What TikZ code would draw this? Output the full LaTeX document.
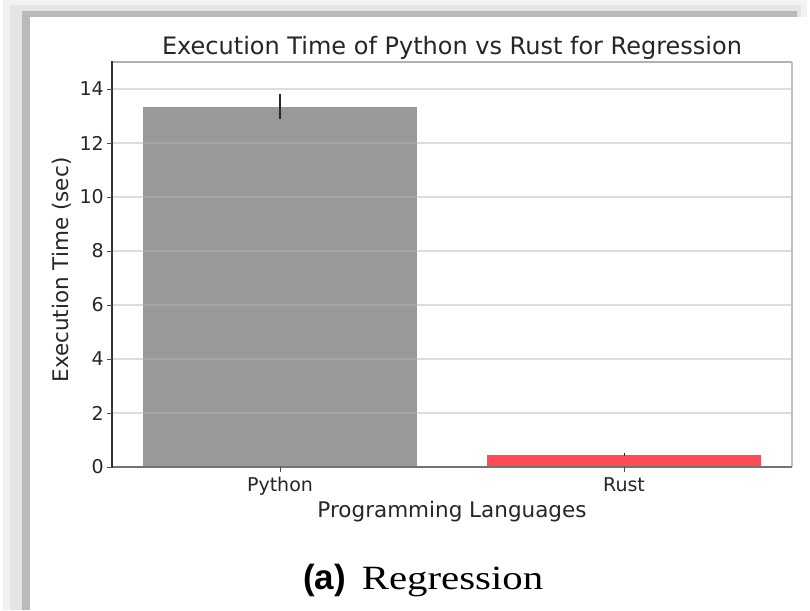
\documentclass[tikz,border=0pt]{standalone}
\usepackage{fontspec}
\newfontfamily\plotfont{DejaVu Sans}
\newfontfamily\capsans{Liberation Sans}
\newfontfamily\capserif{Liberation Serif}
\definecolor{pybar}{HTML}{999999}
\definecolor{rustbar}{HTML}{FF4B57}
\definecolor{gridgray}{HTML}{B4B4B4}
\begin{document}
\begin{tikzpicture}[x=1pt,y=-1pt,
  ticklabel/.style={font=\plotfont\fontsize{19}{22}\selectfont, text=black!85, inner sep=0pt},
  axlabel/.style={font=\plotfont\fontsize{21.5}{25}\selectfont, text=black!85, inner sep=0pt},
  titletext/.style={font=\plotfont\fontsize{24}{28}\selectfont, text=black!85, inner sep=0pt},
  gridline/.style={draw=gridgray, opacity=.45, line width=1.2pt},
  tickmark/.style={draw=black!70, line width=1pt},
  errbar/.style={draw=black!85, line width=1.7pt},
]
\useasboundingbox (0,0) rectangle (810,610);

% soft frame shadow along the top and left edges
\fill[black!5]  (3,0)   rectangle (807,610);
\fill[black!10] (10,5)  rectangle (801,610);
\fill[black!27] (22,11) rectangle (797,610);
\fill[white]    (30,17) rectangle (810,610);

% bars (y = 467 - 27 * value)
\fill[pybar]   (143,107.4) rectangle (417,467);
\fill[rustbar] (487,454.6) rectangle (761,467);

% horizontal grid, drawn over the bars
\foreach \yy in {89,143,197,251,305,359,413}
  \draw[gridline] (112,\yy) -- (792,\yy);

% error bars
\draw[errbar] (280,94.4) -- (280,119.1);
\draw[errbar, line width=1pt] (624,452.6) -- (624,456);

% axes frame
\draw[black!30, line width=1.4pt] (112,62) -- (792,62);
\draw[black!25, line width=1.4pt] (792,62) -- (792,467);
\draw[black!55, line width=1.4pt] (112,467) -- (792,467);
\draw[black!80, line width=1.4pt] (112,61.3) -- (112,467.7);

% y ticks and labels
\foreach \val/\yy in {0/467,2/413,4/359,6/305,8/251,10/197,12/143,14/89}{
  \draw[tickmark] (107,\yy) -- (112,\yy);
  \node[ticklabel, anchor=east] (ytick\val) at (104,\yy) {\val};
}

% x ticks and labels
\draw[tickmark] (280,467) -- (280,472);
\draw[tickmark] (624,467) -- (624,472);
\node[ticklabel, anchor=base] (xpython) at (280,491.7) {Python};
\node[ticklabel, anchor=base] (xrust) at (624,491.7) {Rust};

% axis labels and title
\node[axlabel, anchor=base] (xlabel) at (452,517.7) {Programming Languages};
\node[axlabel, anchor=base, rotate=90] (ylabel) at (68,270) {Execution Time (sec)};
\node[titletext, anchor=base] (title) at (452,54.3) {Execution Time of Python vs Rust for Regression};

% subfigure caption
\node[anchor=base west, inner sep=0pt, font=\capsans\bfseries\fontsize{35}{40}\selectfont] (capletter) at (303,589.3) {(a)};
\node[anchor=base west, inner sep=0pt, font=\capserif\fontsize{34}{40}\selectfont] (captext) at (361.7,589.3) {\scalebox{1.2}[1]{Regression}};
\end{tikzpicture}
\end{document}
